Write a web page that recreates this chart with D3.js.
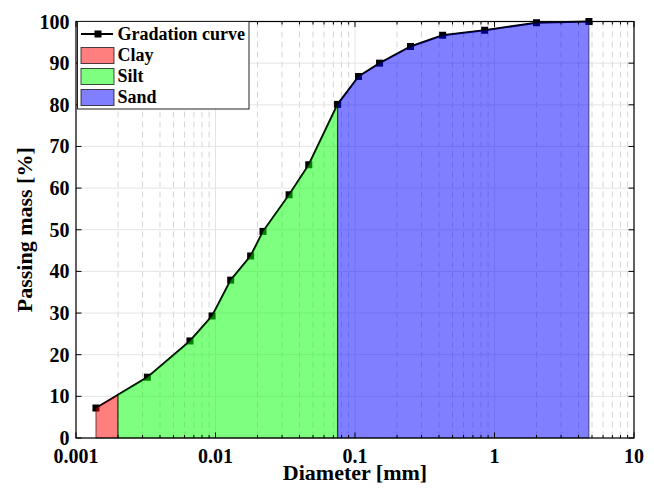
<!DOCTYPE html>
<html>
<head>
<meta charset="utf-8">
<script src="https://cdn.jsdelivr.net/npm/d3@7/dist/d3.min.js"></script>
<style>
  html, body { margin: 0; padding: 0; background: #fff; }
  svg { display: block; }
  text { font-family: "Liberation Serif", "Times New Roman", serif; font-weight: bold; fill: #000; }
</style>
</head>
<body>
<svg id="chart" width="654" height="492"></svg>
<script>
// ---- Data ----
const diameters = [0.00139, 0.00325, 0.00656, 0.00945, 0.01285, 0.01786, 0.0219, 0.0337, 0.0466,
                   0.075, 0.106, 0.15, 0.25, 0.425, 0.85, 2.0, 4.75];
const passing   = [7.2, 14.6, 23.3, 29.3, 37.9, 43.7, 49.6, 58.4, 65.6,
                   80.1, 86.8, 90.0, 94.0, 96.7, 97.9, 99.7, 100];
const classNames  = ["Clay", "Silt", "Sand"];
const classBounds = [0.002, 0.075];            // clay/silt and silt/sand limits [mm]
const classColors = ["#ff0000", "#00ff00", "#0000ff"];
const xTickValues = [0.001, 0.01, 0.1, 1, 10];
const xTickLabels = ["0.001", "0.01", "0.1", "1", "10"];
const yTickValues = [0, 10, 20, 30, 40, 50, 60, 70, 80, 90, 100];
const curveName = "Gradation curve";
const xLabel = "Diameter [mm]";
const yLabel = "Passing mass [%]";

// ---- Layout ----
const L = 76, R = 634, T = 21.5, B = 438;
const svg = d3.select("#chart");
const x = d3.scaleLog().domain([0.001, 10]).range([L, R]);
const y = d3.scaleLinear().domain([0, 100]).range([B, T]);

const pts = diameters.map((d, i) => ({d, p: passing[i]}));

// log-linear value of the curve at a given diameter (for class boundaries)
function curveAt(d) {
  for (let i = 0; i < pts.length - 1; i++) {
    const a = pts[i], b = pts[i + 1];
    if (d >= a.d && d <= b.d) {
      const t = (Math.log10(d) - Math.log10(a.d)) / (Math.log10(b.d) - Math.log10(a.d));
      return a.p + t * (b.p - a.p);
    }
  }
  return null;
}

// ---- Grid ----
const gGrid = svg.append("g");
const minorX = [];
for (let e = -3; e < 1; e++) for (let m = 2; m <= 9; m++) minorX.push(m * Math.pow(10, e));
gGrid.selectAll(".minx").data(minorX).join("line")
  .attr("x1", d => x(d)).attr("x2", d => x(d)).attr("y1", T).attr("y2", B)
  .attr("stroke", "#d6d6d6").attr("stroke-width", 1).attr("stroke-dasharray", "6,4");
gGrid.selectAll(".majx").data(xTickValues).join("line")
  .attr("x1", d => x(d)).attr("x2", d => x(d)).attr("y1", T).attr("y2", B)
  .attr("stroke", "#e4e4e4").attr("stroke-width", 1);
gGrid.selectAll(".majy").data(yTickValues).join("line")
  .attr("x1", L).attr("x2", R).attr("y1", d => y(d)).attr("y2", d => y(d))
  .attr("stroke", "#e4e4e4").attr("stroke-width", 1);

// ---- Curve with markers ----
const line = d3.line().x(d => x(d.d)).y(d => y(d.p));
svg.append("path").datum(pts).attr("d", line)
  .attr("fill", "none").attr("stroke", "#000").attr("stroke-width", 2);
svg.selectAll(".mk").data(pts).join("rect")
  .attr("x", d => x(d.d) - 3.5).attr("y", d => y(d.p) - 3.5)
  .attr("width", 7).attr("height", 7).attr("fill", "#000");

// ---- Class areas (semi-transparent, on top) ----
const edges = [diameters[0], ...classBounds, diameters[diameters.length - 1]];
classNames.forEach((name, i) => {
  const a = edges[i], b = edges[i + 1];
  const poly = [{d: a, p: 0}, {d: a, p: curveAt(a)}];
  pts.forEach(q => { if (q.d > a && q.d < b) poly.push(q); });
  poly.push({d: b, p: curveAt(b)}, {d: b, p: 0});
  svg.append("path").datum(poly)
    .attr("d", d => line(d) + "Z")
    .attr("fill", classColors[i]).attr("fill-opacity", 0.5)
    .attr("stroke", "#000").attr("stroke-opacity", 0.5).attr("stroke-width", 1.2);
});

// ---- Axes box and ticks ----
const gAx = svg.append("g");
const axColor = "#000";
gAx.append("rect").attr("x", L).attr("y", T).attr("width", R - L).attr("height", B - T)
  .attr("fill", "none").attr("stroke", axColor).attr("stroke-width", 1.2);
// x ticks (bottom & top, inside)
[[B, -1], [T, 1]].forEach(([yy, dir]) => {
  gAx.selectAll(null).data(xTickValues).join("line")
    .attr("x1", d => x(d)).attr("x2", d => x(d)).attr("y1", yy).attr("y2", yy + dir * 5.5)
    .attr("stroke", axColor).attr("stroke-width", 1);
  gAx.selectAll(null).data(minorX).join("line")
    .attr("x1", d => x(d)).attr("x2", d => x(d)).attr("y1", yy).attr("y2", yy + dir * 3)
    .attr("stroke", axColor).attr("stroke-width", 1);
});
// y ticks (left & right, inside)
[[L, 1], [R, -1]].forEach(([xx, dir]) => {
  gAx.selectAll(null).data(yTickValues).join("line")
    .attr("x1", xx).attr("x2", xx + dir * 5.5).attr("y1", d => y(d)).attr("y2", d => y(d))
    .attr("stroke", axColor).attr("stroke-width", 1);
});
// tick labels
gAx.selectAll(null).data(xTickValues).join("text")
  .attr("x", d => x(d)).attr("y", B + 25).attr("text-anchor", "middle")
  .attr("font-size", 20).text((d, i) => xTickLabels[i]);
gAx.selectAll(null).data(yTickValues).join("text")
  .attr("x", L - 6.5).attr("y", d => y(d) + 7).attr("text-anchor", "end")
  .attr("font-size", 20).text(d => d);
// axis labels
svg.append("text").attr("x", (L + R) / 2).attr("y", 480).attr("text-anchor", "middle")
  .attr("font-size", 22).text(xLabel);
svg.append("text").attr("transform", `translate(31.5,${(T + B) / 2}) rotate(-90)`)
  .attr("text-anchor", "middle").attr("font-size", 22).text(yLabel);

// ---- Legend ----
const lg = svg.append("g");
const lx = 77.5, ly = 21.5, lw = 171.5, lh = 87.5;
lg.append("rect").attr("x", lx).attr("y", ly).attr("width", lw).attr("height", lh)
  .attr("fill", "#fff").attr("stroke", "#222").attr("stroke-width", 1);
lg.append("line").attr("x1", lx + 3.5).attr("x2", lx + 35.5).attr("y1", ly + 12.5).attr("y2", ly + 12.5)
  .attr("stroke", "#000").attr("stroke-width", 2);
lg.append("rect").attr("x", lx + 17).attr("y", ly + 9).attr("width", 7).attr("height", 7).attr("fill", "#000");
lg.append("text").attr("x", lx + 40).attr("y", ly + 18.5).attr("font-size", 18).text(curveName);
classNames.forEach((name, i) => {
  const yy = ly + 26 + i * 21;
  lg.append("rect").attr("x", lx + 3.5).attr("y", yy).attr("width", 33).attr("height", 16)
    .attr("fill", classColors[i]).attr("fill-opacity", 0.5)
    .attr("stroke", "#000").attr("stroke-opacity", 0.7).attr("stroke-width", 1);
  lg.append("text").attr("x", lx + 40).attr("y", yy + 13.5).attr("font-size", 18).text(name);
});
</script>
</body>
</html>
